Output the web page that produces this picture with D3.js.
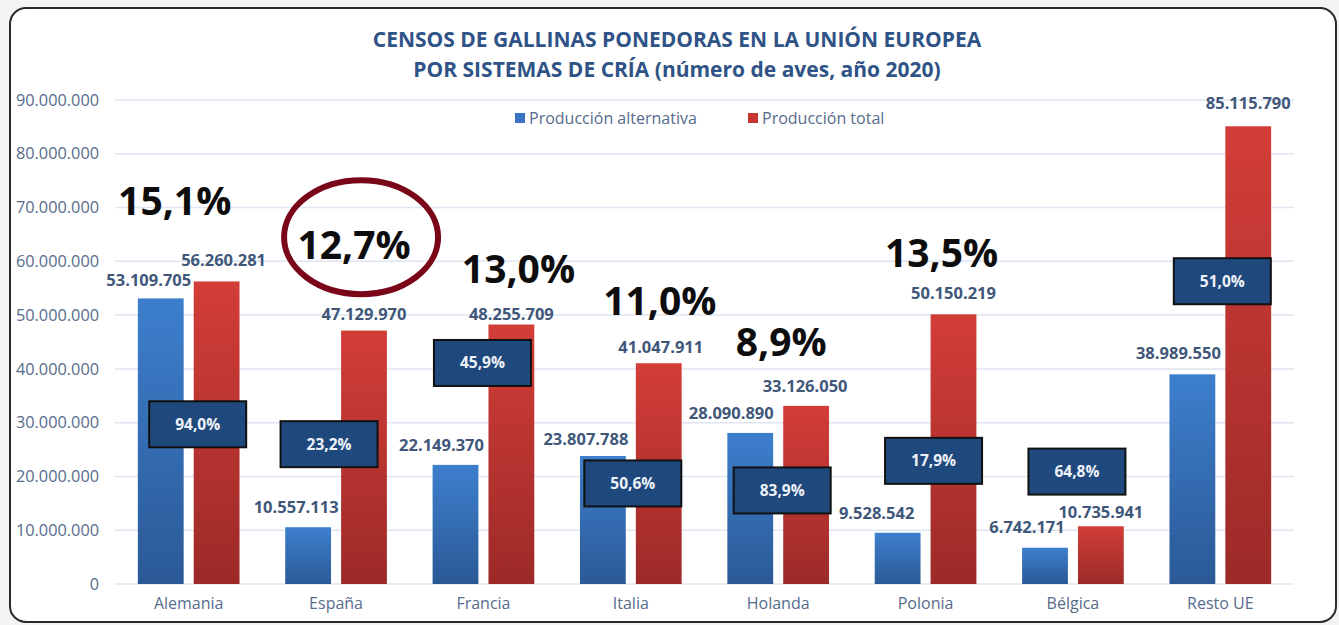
<!DOCTYPE html>
<html>
<head>
<meta charset="utf-8">
<script src="https://cdn.jsdelivr.net/npm/d3@7"></script>
<style>
  html, body { margin: 0; padding: 0; background: #f3f3f3; }
  svg { display: block; font-family: 'Open Sans', sans-serif; }
</style>
</head>
<body>
<svg id="chart"></svg>
<script>
// Data (número de aves, año 2020)
const countries = ['Alemania', 'España', 'Francia', 'Italia', 'Holanda', 'Polonia', 'Bélgica', 'Resto UE'];
const alternativa = [53109705, 10557113, 22149370, 23807788, 28090890, 9528542, 6742171, 38989550];
const total = [56260281, 47129970, 48255709, 41047911, 33126050, 50150219, 10735941, 85115790];
const ratioLabels = ['94,0%', '23,2%', '45,9%', '50,6%', '83,9%', '17,9%', '64,8%', '51,0%'];
const shareLabels = ['15,1%', '12,7%', '13,0%', '11,0%', '8,9%', '13,5%', null, null];
const yTicks = [0, 10e6, 20e6, 30e6, 40e6, 50e6, 60e6, 70e6, 80e6, 90e6];
const seriesNames = ['Producción alternativa', 'Producción total'];

// Hand-placed annotation layout (as in the original sheet)
const altNudge = [[-12, -18], [-12, -20], [-14, -20], [-17, -17], [-19, -20], [-21, -20], [-18, -21], [-14, -21]];
const totNudge = [[7, -21], [0, -16], [0, -10], [2, -16], [-1, -20], [0, -21], [0, -14], [0, -23]];
const boxAt = [[9, 29.7e6], [-7, 26.0e6], [-1, 41.1e6], [2, 18.7e6], [4, 17.4e6], [8, 22.9e6], [4, 20.9e6], [2, 56.3e6]];
const shareAt = [[-14, 71.2e6], [18, 63.0e6], [35, 58.6e6], [29, 52.6e6], [3, 45.0e6], [16, 61.5e6]];

const width = 1339, height = 625;
const fmt = d3.formatLocale({ decimal: ',', thousands: '.', grouping: [3] }).format(',d');

const svg = d3.select('#chart').attr('width', width).attr('height', height);

// gradients
const defs = svg.append('defs');
const grad = (id, top, bottom) => {
  const g = defs.append('linearGradient').attr('id', id).attr('x1', 0).attr('y1', 0).attr('x2', 0).attr('y2', 1);
  g.append('stop').attr('offset', '0%').attr('stop-color', top);
  g.append('stop').attr('offset', '100%').attr('stop-color', bottom);
};
grad('gBlue', '#3d7fcd', '#2b5996');
grad('gRed', '#d33d38', '#9c2a28');

// frame
svg.append('rect')
  .attr('x', 10).attr('y', 8).attr('width', 1326).attr('height', 614)
  .attr('rx', 16).attr('fill', '#fff').attr('stroke', '#2a2a2a').attr('stroke-width', 2);

// scales
const x0 = d3.scaleBand().domain(countries).range([115, 1294]).paddingInner(0.31).paddingOuter(0.155);
const x1 = d3.scaleBand().domain([0, 1]).range([0, x0.bandwidth()]).paddingInner(0.18);
const y = d3.scaleLinear().domain([0, 90e6]).range([584, 100]);

// grid
svg.append('g').selectAll('line').data(yTicks).join('line')
  .attr('x1', 115).attr('x2', 1294)
  .attr('y1', d => y(d)).attr('y2', d => y(d))
  .attr('stroke', '#dde6f1').attr('stroke-width', 1.5);

// y axis labels
svg.append('g').selectAll('text').data(yTicks).join('text')
  .attr('x', 99).attr('y', d => y(d)).attr('dy', '0.35em')
  .attr('text-anchor', 'end').attr('font-size', 16.3).attr('fill', '#566c8c')
  .text(d => d === 0 ? '0' : fmt(d));

// x axis labels
svg.append('g').selectAll('text').data(countries).join('text')
  .attr('x', d => x0(d) + x0.bandwidth() / 2).attr('y', 609)
  .attr('text-anchor', 'middle').attr('font-size', 16).attr('fill', '#566c8c')
  .text(d => d);

// bars
const groups = svg.append('g').selectAll('g').data(countries).join('g')
  .attr('transform', d => `translate(${x0(d)},0)`);

groups.append('rect')
  .attr('x', x1(0)).attr('width', x1.bandwidth())
  .attr('y', (d, i) => y(alternativa[i])).attr('height', (d, i) => y(0) - y(alternativa[i]))
  .attr('fill', 'url(#gBlue)');
groups.append('rect')
  .attr('x', x1(1)).attr('width', x1.bandwidth())
  .attr('y', (d, i) => y(total[i])).attr('height', (d, i) => y(0) - y(total[i]))
  .attr('fill', 'url(#gRed)');

// value labels
const valueLabel = (values, k, nudge) => groups.append('text')
  .attr('x', (d, i) => x1(k) + x1.bandwidth() / 2 + nudge[i][0])
  .attr('y', (d, i) => y(values[i]) + nudge[i][1])
  .attr('dy', '0.35em').attr('text-anchor', 'middle')
  .attr('font-size', 16.5).attr('font-weight', 700).attr('fill', '#40577a')
  .text((d, i) => fmt(values[i]));
valueLabel(alternativa, 0, altNudge);
valueLabel(total, 1, totNudge);

// ratio boxes
const bw = 97, bh = 46;
const boxes = svg.append('g').selectAll('g').data(countries).join('g')
  .attr('transform', (d, i) => `translate(${x0(d) + x0.bandwidth() / 2 + boxAt[i][0]},${y(boxAt[i][1])})`);
boxes.append('rect')
  .attr('x', -bw / 2).attr('y', -bh / 2).attr('width', bw).attr('height', bh)
  .attr('fill', '#1f497d').attr('stroke', '#111').attr('stroke-width', 2);
boxes.append('text')
  .attr('dy', '0.35em').attr('text-anchor', 'middle')
  .attr('font-size', 15.5).attr('font-weight', 700).attr('fill', '#eef2f8')
  .text((d, i) => ratioLabels[i]);

// share of EU total
const shares = svg.append('g').selectAll('text').data(shareLabels.filter(d => d)).join('text')
  .attr('x', (d, i) => x0(countries[i]) + x0.bandwidth() / 2 + shareAt[i][0])
  .attr('y', (d, i) => y(shareAt[i][1]))
  .attr('dy', '0.35em').attr('text-anchor', 'middle')
  .attr('font-size', 39).attr('font-weight', 700).attr('fill', '#0d0d0d')
  .text(d => d);

// highlight España
svg.append('ellipse')
  .attr('cx', x0('España') + x0.bandwidth() / 2 + shareAt[1][0] + 7)
  .attr('cy', y(shareAt[1][1]) - 8)
  .attr('rx', 77).attr('ry', 57)
  .attr('fill', 'none').attr('stroke', '#7a0619').attr('stroke-width', 6);

// title
const title = svg.append('text').attr('text-anchor', 'middle')
  .attr('font-size', 21).attr('font-weight', 700).attr('fill', '#2f5386');
title.append('tspan').attr('x', 677).attr('y', 47).text('CENSOS DE GALLINAS PONEDORAS EN LA UNIÓN EUROPEA');
title.append('tspan').attr('x', 677).attr('y', 77).text('POR SISTEMAS DE CRÍA (número de aves, año 2020)');

// legend
const legend = svg.append('g').selectAll('g').data(seriesNames).join('g')
  .attr('transform', (d, i) => `translate(${i === 0 ? 515 : 748},118)`);
legend.append('rect').attr('x', 0).attr('y', -5).attr('width', 10).attr('height', 10)
  .attr('fill', (d, i) => i === 0 ? '#3a74c0' : '#c73532');
legend.append('text').attr('x', 14).attr('dy', '0.35em')
  .attr('font-size', 16).attr('fill', '#566c8c').text(d => d);
</script>
</body>
</html>
